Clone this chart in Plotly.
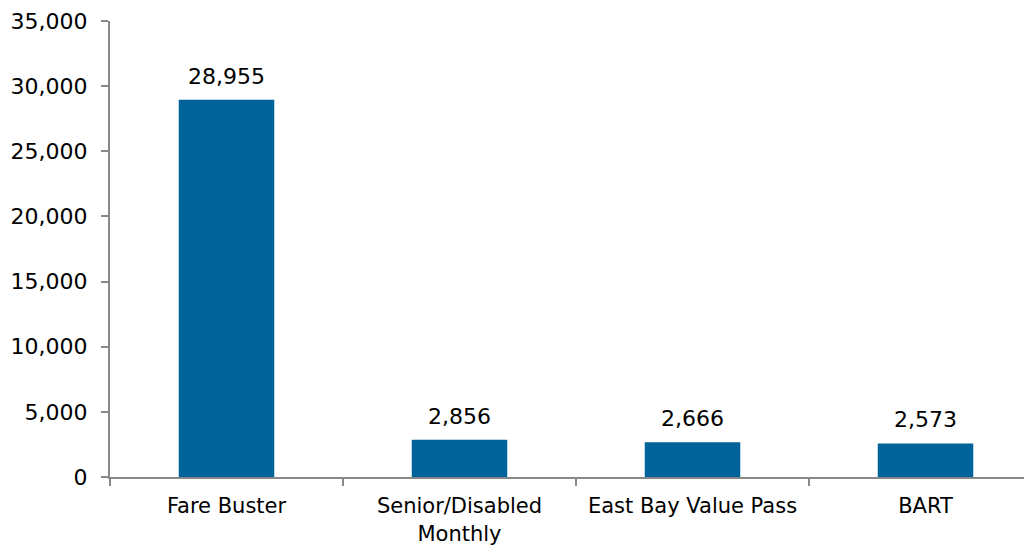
import plotly.graph_objects as go

categories = ["Fare Buster", "Senior/Disabled<br>Monthly", "East Bay Value Pass", "BART"]
values = [28955, 2856, 2666, 2573]
y_ticks = [0, 5000, 10000, 15000, 20000, 25000, 30000, 35000]

FONT = "'DejaVu Sans', sans-serif"

fig = go.Figure(go.Bar(
    x=categories, y=values,
    marker=dict(color="#00649A", line=dict(width=0)),
    width=0.41,
    cliponaxis=False,
))

for c, v in zip(categories, values):
    fig.add_annotation(
        x=c, y=v, text=f"{v:,}", showarrow=False,
        yanchor="bottom", yshift=9,
        font=dict(family=FONT, size=22, color="#000000"),
    )

fig.update_layout(
    width=1032, height=550,
    margin=dict(l=102, r=0, t=13, b=81),
    paper_bgcolor="white", plot_bgcolor="white",
    font=dict(family=FONT, size=22, color="#000000"),
    showlegend=False,
)
fig.update_yaxes(
    range=[0, 35000], tickvals=y_ticks, tickformat=",d",
    showgrid=False, zeroline=False, automargin=False,
    showline=True, linecolor="#888888", linewidth=2,
    ticks="outside", ticklen=7, tickcolor="#888888", tickwidth=2,
    tickfont=dict(size=22), ticklabelstandoff=9,
)
fig.update_xaxes(
    range=[-0.5, -0.5 + 930 / 233], automargin=False,
    showgrid=False, showline=True, linecolor="#888888", linewidth=2,
    ticks="outside", tickson="boundaries", ticklen=7, tickcolor="#888888", tickwidth=2,
    tickfont=dict(size=21), ticklabelstandoff=9,
)

fig.write_html("out.html")
